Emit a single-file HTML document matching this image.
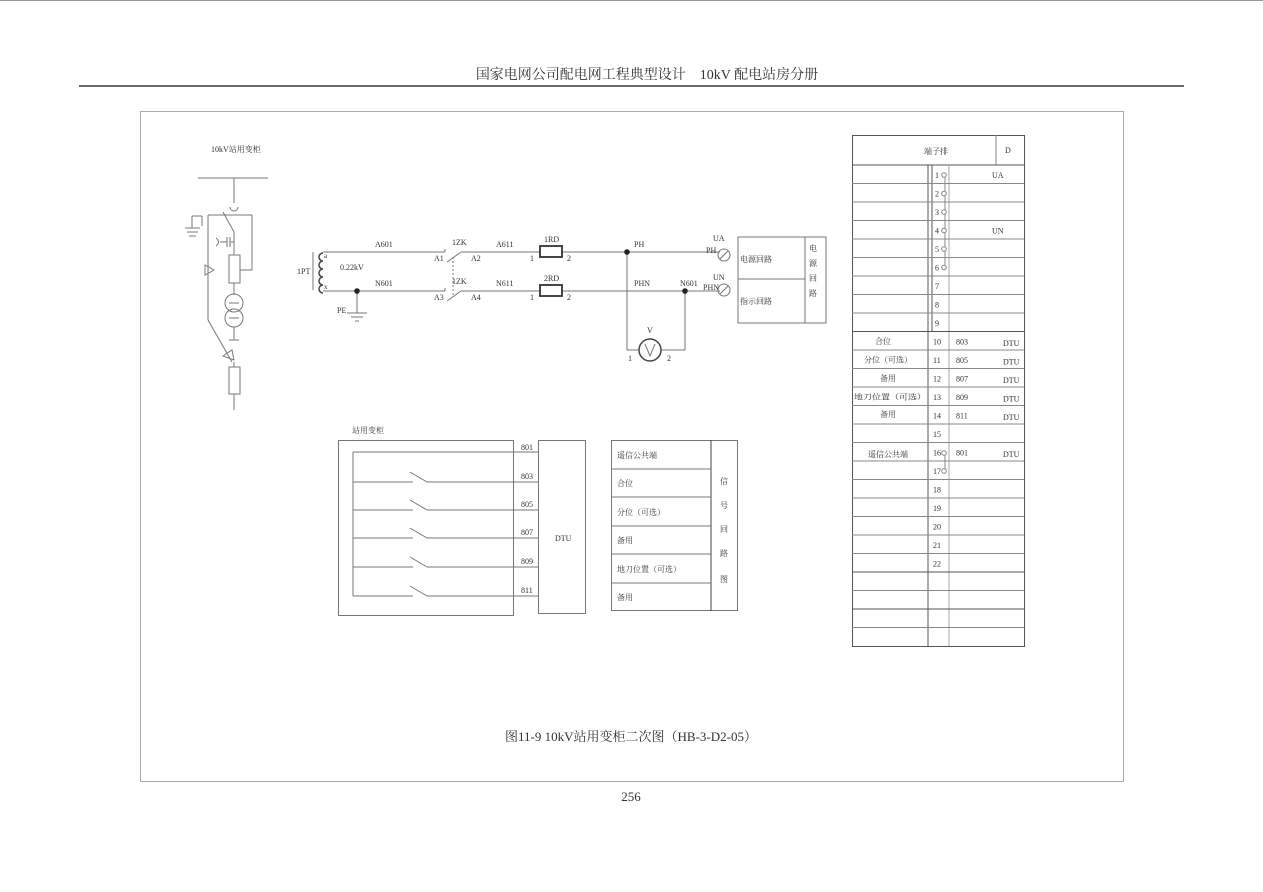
<!DOCTYPE html>
<html><head><meta charset="utf-8">
<style>
html,body{margin:0;padding:0;background:#fff;}
svg{display:block;}
text{font-family:"Liberation Serif","Noto Serif CJK SC",serif;fill:#333;}
</style></head>
<body>
<svg width="1263" height="892" viewBox="0 0 1263 892" xmlns="http://www.w3.org/2000/svg">
<rect width="1263" height="892" fill="#fff"/>
<line x1="0" y1="0.5" x2="1263" y2="0.5" stroke="#999"/>
<text x="647" y="79" font-size="14" text-anchor="middle" fill="#222">国家电网公司配电网工程典型设计　10kV 配电站房分册</text>
<line x1="79" y1="86" x2="1184" y2="86" stroke="#111" stroke-width="1.2"/>
<rect x="140.5" y="111.5" width="983" height="670" fill="none" stroke="#aaa"/>
<text x="631" y="801" font-size="13" text-anchor="middle" fill="#222">256</text>
<text x="631" y="741" font-size="13" text-anchor="middle" fill="#444">图11-9 10kV站用变柜二次图（HB-3-D2-05）</text>

<g stroke="#777" fill="none" stroke-width="1">
<line x1="198" y1="178" x2="268" y2="178"/>
<line x1="234" y1="178" x2="234" y2="203"/>
<path d="M230 207 a4 4 0 0 0 8 0"/>
<line x1="223" y1="212" x2="234" y2="232"/>
<line x1="234" y1="232" x2="234" y2="255"/>
<line x1="208" y1="215" x2="252" y2="215"/>
<line x1="252" y1="215" x2="252" y2="270"/>
<line x1="252" y1="270" x2="240" y2="270"/>
<line x1="202" y1="216" x2="202" y2="226"/>
<line x1="192" y1="216" x2="202" y2="216"/>
<line x1="192" y1="216" x2="192" y2="228"/>
<line x1="185" y1="228" x2="200" y2="228"/>
<line x1="187" y1="232" x2="198" y2="232"/>
<line x1="189" y1="236" x2="196" y2="236"/>
<path d="M216 238 q5 4 0 8"/>
<line x1="220" y1="242" x2="227" y2="242"/>
<line x1="227" y1="237" x2="227" y2="247"/>
<line x1="230" y1="237" x2="230" y2="247"/>
<line x1="230" y1="242" x2="234" y2="242"/>
<rect x="229" y="255" width="11" height="28"/>
<line x1="234" y1="283" x2="234" y2="295"/>
<circle cx="234" cy="303" r="9"/>
<circle cx="234" cy="318" r="9"/>
<line x1="229" y1="303" x2="239" y2="303"/>
<line x1="229" y1="318" x2="239" y2="318"/>
<line x1="234" y1="327" x2="234" y2="340"/>
<line x1="229" y1="340" x2="239" y2="340"/>
<line x1="208" y1="215" x2="208" y2="320"/>
<path d="M205 265 L214 270 L205 275 Z"/>
<line x1="208" y1="320" x2="232" y2="362"/>
<path d="M223 356 L232 350 L234 360 Z"/>
<line x1="234" y1="362" x2="234" y2="367"/>
<rect x="229" y="367" width="11" height="27"/>
<line x1="234" y1="394" x2="234" y2="410"/>

<line x1="313" y1="252" x2="313" y2="290"/>
<path d="M323 253 a4 4 0 0 0 0 8 a4 4 0 0 0 0 8 a4 4 0 0 0 0 8 a4 4 0 0 0 0 8 a4 4 0 0 0 0 8" stroke="#444" stroke-width="1.5"/>
<line x1="323" y1="252" x2="445" y2="252"/>
<line x1="323" y1="291" x2="445" y2="291"/>
<line x1="445" y1="249" x2="445" y2="252"/>
<line x1="445" y1="288" x2="445" y2="291"/>
<line x1="447" y1="262" x2="461" y2="252"/>
<line x1="447" y1="301" x2="461" y2="291"/>
<line x1="453" y1="257" x2="453" y2="296" stroke-dasharray="2 2"/>
<line x1="461" y1="252" x2="540" y2="252"/>
<line x1="461" y1="291" x2="540" y2="291"/>
<line x1="562" y1="252" x2="720" y2="252"/>
<line x1="562" y1="291" x2="720" y2="291"/>
<line x1="357" y1="291" x2="357" y2="313"/>
<line x1="347" y1="313" x2="367" y2="313"/>
<line x1="351" y1="317" x2="363" y2="317"/>
<line x1="355" y1="321" x2="359" y2="321"/>
<line x1="627" y1="252" x2="627" y2="350"/>
<line x1="627" y1="350" x2="639" y2="350"/>
<line x1="661" y1="350" x2="685" y2="350"/>
<line x1="685" y1="291" x2="685" y2="350"/>
<circle cx="650" cy="350" r="11" stroke="#444" stroke-width="1.5"/>
<path d="M645 344 L650 356 L655 344"/>
<circle cx="724" cy="255" r="6"/>
<line x1="720" y1="259" x2="728" y2="251"/>
<circle cx="724" cy="290" r="6"/>
<line x1="720" y1="294" x2="728" y2="286"/>
<rect x="738" y="237" width="88" height="86"/>
<line x1="805" y1="237" x2="805" y2="323"/>
<line x1="738" y1="279" x2="805" y2="279"/>
</g>
<rect x="540" y="246" width="22" height="11" fill="#fff" stroke="#333" stroke-width="1.8"/>
<rect x="540" y="285" width="22" height="11" fill="#fff" stroke="#333" stroke-width="1.8"/>
<circle cx="357" cy="291" r="2.8" fill="#222"/>
<circle cx="627" cy="252" r="2.8" fill="#222"/>
<circle cx="685" cy="291" r="2.8" fill="#222"/>

<g font-size="8">
<text x="211" y="152">10kV站用变柜</text>
<text x="297" y="274">1PT</text>
<text x="324" y="258" font-size="7">a</text>
<text x="324" y="289" font-size="7">x</text>
<text x="340" y="270">0.22kV</text>
<text x="375" y="247">A601</text>
<text x="375" y="286">N601</text>
<text x="337" y="313">PE</text>
<text x="452" y="245">1ZK</text>
<text x="452" y="284">1ZK</text>
<text x="434" y="261">A1</text>
<text x="471" y="261">A2</text>
<text x="434" y="300">A3</text>
<text x="471" y="300">A4</text>
<text x="496" y="247">A611</text>
<text x="496" y="286">N611</text>
<text x="544" y="242">1RD</text>
<text x="544" y="281">2RD</text>
<text x="530" y="261">1</text><text x="567" y="261">2</text>
<text x="530" y="300">1</text><text x="567" y="300">2</text>
<text x="634" y="247">PH</text>
<text x="634" y="286">PHN</text>
<text x="680" y="286">N601</text>
<text x="713" y="241">UA</text>
<text x="706" y="253">PH</text>
<text x="713" y="280">UN</text>
<text x="703" y="290">PHN</text>
<text x="647" y="333">V</text>
<text x="628" y="361">1</text>
<text x="667" y="361">2</text>
<text x="740" y="262">电源回路</text>
<text x="740" y="304">指示回路</text>
<text x="809" y="251">电</text>
<text x="809" y="266">源</text>
<text x="809" y="281">回</text>
<text x="809" y="296">路</text>
</g>

<g stroke="#777" fill="none">
<rect x="338.5" y="440.5" width="175" height="175"/>
<rect x="538.5" y="440.5" width="47" height="173"/>
<line x1="353" y1="452" x2="538" y2="452"/>
<line x1="353" y1="452" x2="353" y2="596"/>
<line x1="353" y1="482" x2="413" y2="482"/><line x1="410" y1="472" x2="427" y2="482"/><line x1="427" y1="482" x2="538" y2="482"/>
<line x1="353" y1="510" x2="413" y2="510"/><line x1="410" y1="500" x2="427" y2="510"/><line x1="427" y1="510" x2="538" y2="510"/>
<line x1="353" y1="538" x2="413" y2="538"/><line x1="410" y1="528" x2="427" y2="538"/><line x1="427" y1="538" x2="538" y2="538"/>
<line x1="353" y1="567" x2="413" y2="567"/><line x1="410" y1="557" x2="427" y2="567"/><line x1="427" y1="567" x2="538" y2="567"/>
<line x1="353" y1="596" x2="413" y2="596"/><line x1="410" y1="586" x2="427" y2="596"/><line x1="427" y1="596" x2="538" y2="596"/>
<rect x="611.5" y="440.5" width="126" height="170"/>
<line x1="711" y1="440" x2="711" y2="611" stroke="#444"/>
<line x1="611" y1="469" x2="711" y2="469"/>
<line x1="611" y1="497" x2="711" y2="497"/>
<line x1="611" y1="526" x2="711" y2="526"/>
<line x1="611" y1="554" x2="711" y2="554"/>
<line x1="611" y1="583" x2="711" y2="583"/>
</g>
<g font-size="8">
<text x="352" y="433">站用变柜</text>
<text x="521" y="450">801</text>
<text x="521" y="479">803</text>
<text x="521" y="507">805</text>
<text x="521" y="535">807</text>
<text x="521" y="564">809</text>
<text x="521" y="593">811</text>
<text x="555" y="541">DTU</text>
<text x="617" y="458">遥信公共端</text>
<text x="617" y="486">合位</text>
<text x="617" y="515">分位（可选）</text>
<text x="617" y="543">备用</text>
<text x="617" y="572">地刀位置（可选）</text>
<text x="617" y="600">备用</text>
<text x="720" y="484">信</text>
<text x="720" y="508">号</text>
<text x="720" y="532">回</text>
<text x="720" y="556">路</text>
<text x="720" y="582">图</text>
</g>

<g stroke="#888" fill="none">
<rect x="852.5" y="135.5" width="172" height="511" stroke="#555"/>
<line x1="996" y1="135" x2="996" y2="165"/>
<line x1="852" y1="165" x2="1024" y2="165" stroke="#555"/>
<line x1="928" y1="165" x2="928" y2="646" stroke="#555"/>
<line x1="932" y1="165" x2="932" y2="331.5" stroke="#555"/>
<line x1="949" y1="165" x2="949" y2="646" stroke="#aaa"/>
<line x1="945" y1="175" x2="945" y2="270"/>
<line x1="945" y1="453" x2="945" y2="472"/>
<line x1="852" y1="183.5" x2="1024" y2="183.5"/>
<line x1="852" y1="202" x2="1024" y2="202"/>
<line x1="852" y1="220.5" x2="1024" y2="220.5"/>
<line x1="852" y1="239" x2="1024" y2="239"/>
<line x1="852" y1="257.5" x2="1024" y2="257.5"/>
<line x1="852" y1="276" x2="1024" y2="276"/>
<line x1="852" y1="294.5" x2="1024" y2="294.5"/>
<line x1="852" y1="313" x2="1024" y2="313"/>
<line x1="852" y1="331.5" x2="1024" y2="331.5" stroke="#555"/>
<line x1="852" y1="350" x2="1024" y2="350"/>
<line x1="852" y1="368.5" x2="1024" y2="368.5"/>
<line x1="852" y1="387" x2="1024" y2="387"/>
<line x1="852" y1="405.5" x2="1024" y2="405.5"/>
<line x1="852" y1="424" x2="1024" y2="424"/>
<line x1="852" y1="442.5" x2="1024" y2="442.5"/>
<line x1="852" y1="461" x2="1024" y2="461"/>
<line x1="852" y1="479.5" x2="1024" y2="479.5"/>
<line x1="852" y1="498" x2="1024" y2="498"/>
<line x1="852" y1="516.5" x2="1024" y2="516.5"/>
<line x1="852" y1="535" x2="1024" y2="535"/>
<line x1="852" y1="553.5" x2="1024" y2="553.5"/>
<line x1="852" y1="572" x2="1024" y2="572" stroke="#555"/>
<line x1="852" y1="590.5" x2="1024" y2="590.5"/>
<line x1="852" y1="609" x2="1024" y2="609" stroke="#555"/>
<line x1="852" y1="627.5" x2="1024" y2="627.5"/>
<circle cx="944" cy="175" r="2.3" fill="#fff"/>
<circle cx="944" cy="193.5" r="2.3" fill="#fff"/>
<circle cx="944" cy="212" r="2.3" fill="#fff"/>
<circle cx="944" cy="230.5" r="2.3" fill="#fff"/>
<circle cx="944" cy="249" r="2.3" fill="#fff"/>
<circle cx="944" cy="267.5" r="2.3" fill="#fff"/>
<circle cx="944" cy="453" r="2.3" fill="#fff"/>
<circle cx="944" cy="471" r="2.3" fill="#fff"/>
</g>
<g font-size="8">
<text x="924" y="154">端子排</text>
<text x="1005" y="153">D</text>
<text x="935" y="178">1</text><text x="935" y="196.5">2</text><text x="935" y="215">3</text>
<text x="935" y="233.5">4</text><text x="935" y="252">5</text><text x="935" y="270.5">6</text>
<text x="935" y="289">7</text><text x="935" y="307.5">8</text><text x="935" y="326">9</text>
<text x="933" y="344.5">10</text><text x="933" y="363">11</text><text x="933" y="381.5">12</text>
<text x="933" y="400">13</text><text x="933" y="418.5">14</text><text x="933" y="437">15</text>
<text x="933" y="455.5">16</text><text x="933" y="474">17</text><text x="933" y="492.5">18</text>
<text x="933" y="511">19</text><text x="933" y="529.5">20</text><text x="933" y="548">21</text>
<text x="933" y="566.5">22</text>
<text x="992" y="178">UA</text>
<text x="992" y="233.5">UN</text>
<text x="956" y="344.5">803</text><text x="1003" y="346">DTU</text>
<text x="956" y="363">805</text><text x="1003" y="364.5">DTU</text>
<text x="956" y="381.5">807</text><text x="1003" y="383">DTU</text>
<text x="956" y="400">809</text><text x="1003" y="401.5">DTU</text>
<text x="956" y="418.5">811</text><text x="1003" y="420">DTU</text>
<text x="956" y="455.5">801</text><text x="1003" y="457">DTU</text>
<g text-anchor="middle">
<text x="883" y="344">合位</text>
<text x="888" y="362.5">分位（可选）</text>
<text x="888" y="381">备用</text>
<text x="890" y="399.5" font-size="7.5" textLength="72" lengthAdjust="spacingAndGlyphs">地刀位置（可选）</text>
<text x="888" y="417">备用</text>
<text x="888" y="457">遥信公共端</text>
</g>
</g>
</svg>
</body></html>
